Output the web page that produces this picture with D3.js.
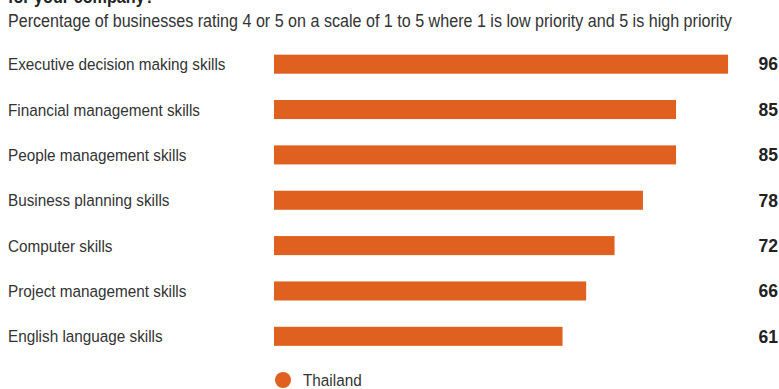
<!DOCTYPE html>
<html>
<head>
<meta charset="utf-8">
<script src="https://cdn.jsdelivr.net/npm/d3@7/dist/d3.min.js"></script>
<style>
  html, body { margin: 0; padding: 0; background: #fff; }
  svg { display: block; }
  text { font-family: "Liberation Sans", Arial, sans-serif; }
</style>
</head>
<body>
<svg id="chart" width="779" height="389"></svg>
<script>
const categories = [
  "Executive decision making skills",
  "Financial management skills",
  "People management skills",
  "Business planning skills",
  "Computer skills",
  "Project management skills",
  "English language skills"
];
const values = [96, 85, 85, 78, 72, 66, 61];
const seriesName = "Thailand";
const titleText = "for your company?";
const subtitleText = "Percentage of businesses rating 4 or 5 on a scale of 1 to 5 where 1 is low priority and 5 is high priority";

const color = "#e06020";
const squeeze = 0.9; // condensed look for the text face
const svg = d3.select("#chart");

const x = d3.scaleLinear().domain([0, 100]).range([274, 747]);
const y = d3.scaleBand().domain(categories).range([41.5, 359]).paddingInner(0.58).paddingOuter(0.29);

// place a horizontally condensed text with its anchor at (tx, ty)
function condensed(sel, tx, ty) {
  return sel.attr("x", 0).attr("y", 0)
    .attr("transform", (d, i) => {
      const X = typeof tx === "function" ? tx(d, i) : tx;
      const Y = typeof ty === "function" ? ty(d, i) : ty;
      return `translate(${X},${Y}) scale(${squeeze},1)`;
    });
}

// Title (runs off the top edge) and subtitle
condensed(svg.append("text"), 8, 3)
  .attr("font-size", 18).attr("font-weight", "bold").attr("fill", "#222")
  .text(titleText);
condensed(svg.append("text"), 8, 27)
  .attr("font-size", 17.9).attr("fill", "#333")
  .text(subtitleText);

const rows = svg.append("g").selectAll("g").data(categories).join("g");

condensed(rows.append("text"), 8, d => y(d) + y.bandwidth() / 2)
  .attr("dy", "0.36em")
  .attr("font-size", 17).attr("fill", "#333")
  .text(d => d);

rows.append("rect")
  .attr("x", x(0))
  .attr("y", d => y(d))
  .attr("height", y.bandwidth())
  .attr("width", (d, i) => x(values[i]) - x(0))
  .attr("fill", color);

rows.append("text")
  .attr("x", 778)
  .attr("y", d => y(d) + y.bandwidth() / 2)
  .attr("dy", "0.36em")
  .attr("text-anchor", "end")
  .attr("font-size", 17.5).attr("font-weight", "bold").attr("fill", "#222")
  .text((d, i) => values[i]);

// Legend
const legend = svg.append("g");
legend.append("circle").attr("cx", 283).attr("cy", 380).attr("r", 8).attr("fill", color);
condensed(legend.append("text"), 303, 380).attr("dy", "0.36em")
  .attr("font-size", 17).attr("fill", "#333").text(seriesName);
</script>
</body>
</html>
